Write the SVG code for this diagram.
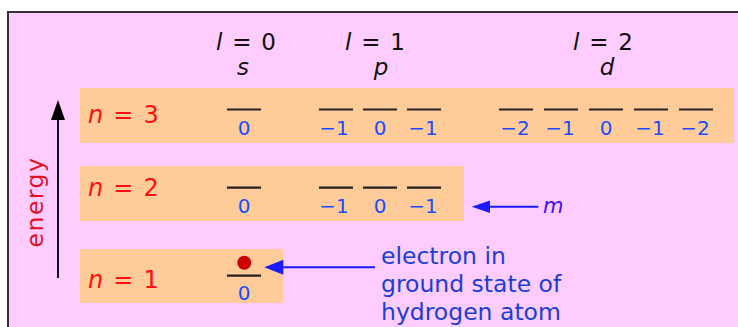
<svg xmlns="http://www.w3.org/2000/svg" width="738" height="327" viewBox="0 0 738 327">
<defs>
<style>
.hdr{font-family:"DejaVu Sans",Verdana,sans-serif;font-size:23px;fill:#111;word-spacing:2.5px}
.sub{font-family:"DejaVu Sans",Verdana,sans-serif;font-size:23px;fill:#111;font-style:italic;text-anchor:middle}
.nlab{font-family:"DejaVu Sans",Verdana,sans-serif;font-size:24px;fill:#ff1010;word-spacing:2.5px}
.m{font-family:"DejaVu Sans",Verdana,sans-serif;font-size:20px;fill:#1a4cff;text-anchor:middle}
.band{fill:#ffcc99}
.lvl{stroke:#222;stroke-width:2.2}
.note{font-family:"DejaVu Sans",Verdana,sans-serif;font-size:23.5px;fill:#1a3fd0}
.it{font-style:italic}
</style>
</defs>
<rect x="0" y="0" width="738" height="327" fill="#ffffff"/>
<rect x="8" y="12" width="740" height="330" fill="#ffccff" stroke="#333" stroke-width="2"/>

<g id="headers">
<text class="hdr" x="216" y="49.5"><tspan class="it">l</tspan> = 0</text>
<text class="sub" x="243" y="75">s</text>
<text class="hdr" x="345" y="49.5"><tspan class="it">l</tspan> = 1</text>
<text class="sub" x="381" y="75">p</text>
<text class="hdr" x="573" y="49.5"><tspan class="it">l</tspan> = 2</text>
<text class="sub" x="607" y="75">d</text>
</g>

<g id="energy-axis">
<text x="43" y="202" transform="rotate(-90 43 202)" text-anchor="middle" font-family="DejaVu Sans, Verdana, sans-serif" font-size="23.5" letter-spacing="1.5" fill="#dd1122">energy</text>
<line x1="58" y1="118" x2="58" y2="278" stroke="#111" stroke-width="2"/>
<polygon points="58,100 51,120 65,120" fill="#000"/>
</g>

<g id="n3">
<rect class="band" x="80" y="88" width="654" height="55"/>
<text class="nlab" x="88" y="122.5"><tspan class="it">n</tspan> = 3</text>
<line class="lvl" x1="227" y1="109.5" x2="261" y2="109.5"/>
<line class="lvl" x1="319" y1="109.5" x2="353" y2="109.5"/>
<line class="lvl" x1="363" y1="109.5" x2="397" y2="109.5"/>
<line class="lvl" x1="407" y1="109.5" x2="441" y2="109.5"/>
<line class="lvl" x1="499" y1="109.5" x2="533" y2="109.5"/>
<line class="lvl" x1="544" y1="109.5" x2="578" y2="109.5"/>
<line class="lvl" x1="589" y1="109.5" x2="623" y2="109.5"/>
<line class="lvl" x1="634" y1="109.5" x2="668" y2="109.5"/>
<line class="lvl" x1="679" y1="109.5" x2="713" y2="109.5"/>
<text class="m" x="244" y="135">0</text>
<text class="m" x="334" y="135">−1</text>
<text class="m" x="380" y="135">0</text>
<text class="m" x="423" y="135">−1</text>
<text class="m" x="515" y="135">−2</text>
<text class="m" x="560" y="135">−1</text>
<text class="m" x="606" y="135">0</text>
<text class="m" x="650" y="135">−1</text>
<text class="m" x="695" y="135">−2</text>
</g>

<g id="n2">
<rect class="band" x="80" y="166" width="384" height="55"/>
<text class="nlab" x="88" y="195.5"><tspan class="it">n</tspan> = 2</text>
<line class="lvl" x1="227" y1="187.7" x2="261" y2="187.7"/>
<line class="lvl" x1="319" y1="187.7" x2="353" y2="187.7"/>
<line class="lvl" x1="363" y1="187.7" x2="397" y2="187.7"/>
<line class="lvl" x1="407" y1="187.7" x2="441" y2="187.7"/>
<text class="m" x="244" y="212.7">0</text>
<text class="m" x="334" y="212.7">−1</text>
<text class="m" x="380" y="212.7">0</text>
<text class="m" x="423" y="212.7">−1</text>
</g>

<g id="n1">
<rect class="band" x="80" y="249" width="203" height="54"/>
<text class="nlab" x="88" y="287.5"><tspan class="it">n</tspan> = 1</text>
<line class="lvl" x1="227" y1="275.7" x2="261" y2="275.7"/>
<text class="m" x="244" y="300">0</text>
<circle cx="244.3" cy="262.7" r="7" fill="#cc0000"/>
</g>

<g id="connectors">
<line x1="375" y1="267.3" x2="281" y2="267.3" stroke="#1a1aff" stroke-width="2"/>
<polygon points="264.3,267.3 283.3,259.8 283.3,274.8" fill="#1a1aff"/>
<line x1="538.3" y1="206.7" x2="488" y2="206.7" stroke="#1a1aff" stroke-width="2"/>
<polygon points="471.7,206.7 490,200.4 490,213" fill="#1a1aff"/>
</g>

<g id="m-label">
<text x="543" y="212.7" font-family="DejaVu Sans, Verdana, sans-serif" font-size="21" font-style="italic" fill="#4411ee">m</text>
</g>

<g id="electron-note">
<text class="note" x="381" y="264.3">electron in</text>
<text class="note" x="381" y="292">ground state of</text>
<text class="note" x="381" y="320">hydrogen atom</text>
</g>
</svg>
